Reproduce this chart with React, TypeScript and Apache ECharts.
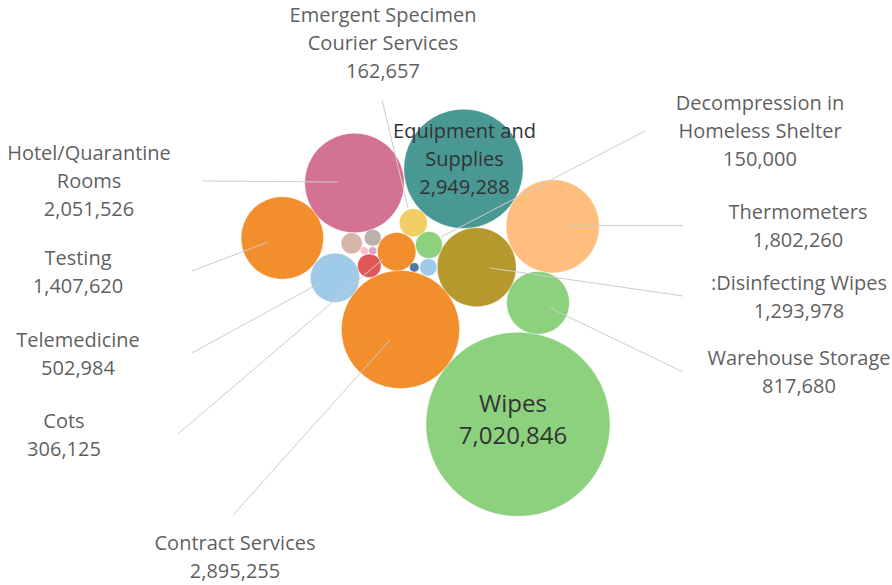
import React, { useEffect, useRef } from "react";
import * as echarts from "echarts";

// ---- data ----
const categories = [
  "Wipes",
  "Equipment and Supplies",
  "Contract Services",
  "Hotel/Quarantine Rooms",
  "Thermometers",
  "Testing",
  "Disinfecting Wipes",
  "Warehouse Storage",
  "Telemedicine",
  "Cots",
  "Emergent Specimen Courier Services",
  "Decompression in Homeless Shelter",
  "Other A",
  "Other B",
  "Other C",
  "Other D",
  "Other E",
  "Other F",
  "Other G",
];
const values = [
  7020846, 2949288, 2895255, 2051526, 1802260, 1407620, 1293978, 817680, 502984,
  306125, 162657, 150000, 115000, 92000, 58000, 62000, 18000, 13500, 13500,
];

// ---- packed-bubble layout (layout units = chart pixels) ----
const layoutX = [518, 463.5, 400.5, 354.5, 552.7, 282.3, 476.7, 538, 335, 396.7, 413.3, 429, 369.3, 351.7, 372.7, 428.3, 414.3, 364.3, 372.7];
const layoutY = [424.3, 168.8, 329.5, 183, 226.3, 238, 267.2, 302.8, 277.8, 251.7, 222.7, 245, 265.8, 243.3, 237.7, 267.3, 267.3, 250.7, 250.7];

// ---- styles ----
const colors = [
  "#8CD17D", "#499894", "#F28E2B", "#D37295", "#FFBE7D", "#F28E2B", "#B6992D",
  "#8CD17D", "#A0CBE8", "#F28E2B", "#F1CE63", "#8CD17D", "#E15759", "#D7B5A6",
  "#BAB0AC", "#A0CBE8", "#4E79A7", "#FABFD2", "#D4A6C8",
];
const SIZE_K = 0.03472; // radius px per sqrt(value)

// ---- outside annotations ----
const annIndex = [10, 11, 3, 5, 8, 9, 2, 4, 6, 7];
const annText = [
  "Emergent Specimen\nCourier Services",
  "Decompression in\nHomeless Shelter",
  "Hotel/Quarantine\nRooms",
  "Testing",
  "Telemedicine",
  "Cots",
  "Contract Services",
  "Thermometers",
  ":Disinfecting Wipes",
  "Warehouse Storage",
];
const annX = [383, 760, 89, 78, 78, 64, 235, 798, 799, 799];
const annY = [42, 130, 180, 271, 353, 434, 556, 225, 296, 371];
const leaderFrom = [
  [382, 100], [645, 131], [202, 181], [192, 271], [192, 353], [178, 434],
  [233, 515], [683, 225], [683, 296], [683, 372],
];
const leaderTo = [
  [408, 208], [441, 237], [338, 182], [268, 242], [320, 283], [383, 259],
  [390, 340], [567, 225], [490, 268], [550, 308],
];

const fmt = (v: number) => v.toLocaleString("en-US");
const FONT = "Open Sans";
const TEXT = "#333333";

export default function App() {
  const ref = useRef<HTMLDivElement>(null);
  useEffect(() => {
    if (!ref.current) return;
    const chart = echarts.init(ref.current, null, { renderer: "svg" });

    const bubbleData = categories.map((name, i) => {
      const item: any = {
        name,
        value: [layoutX[i], layoutY[i], values[i]],
        itemStyle: { color: colors[i] },
      };
      if (i === 0) {
        item.label = {
          show: true,
          position: "inside",
          formatter: `${name}\n${fmt(values[i])}`,
          fontSize: 24,
          lineHeight: 32,
          fontFamily: FONT,
          color: TEXT,
          offset: [-5, -6],
        };
      } else if (i === 1) {
        item.label = {
          show: true,
          position: "inside",
          formatter: `Equipment and\nSupplies\n${fmt(values[i])}`,
          fontSize: 20,
          lineHeight: 28,
          fontFamily: FONT,
          color: TEXT,
          offset: [1, -10],
        };
      }
      return item;
    });

    const annData = annIndex.map((ci, j) => ({
      name: categories[ci],
      value: [annX[j], annY[j]],
      label: { formatter: `${annText[j]}\n${fmt(values[ci])}` },
    }));

    const leaderData = leaderFrom.map((p, j) => ({ coords: [p, leaderTo[j]] }));

    chart.setOption({
      animation: false,
      backgroundColor: "#ffffff",
      grid: { left: 0, right: 0, top: 0, bottom: 0 },
      xAxis: { type: "value", min: 0, max: 892, show: false },
      yAxis: { type: "value", min: 0, max: 585, inverse: true, show: false },
      series: [
        {
          type: "scatter",
          name: "bubbles",
          data: bubbleData,
          symbol: "circle",
          symbolSize: (d: number[]) => 2 * SIZE_K * Math.sqrt(d[2]),
          itemStyle: { opacity: 1, borderColor: "rgba(255,255,255,0.6)", borderWidth: 0.6 },
          label: { show: false },
          z: 2,
        },
        {
          type: "lines",
          coordinateSystem: "cartesian2d",
          data: leaderData,
          lineStyle: { color: "#cccccc", width: 1, opacity: 1 },
          silent: true,
          z: 3,
        },
        {
          type: "scatter",
          name: "annotations",
          data: annData,
          symbolSize: 1,
          itemStyle: { color: "rgba(0,0,0,0)" },
          label: {
            show: true,
            position: "inside",
            fontSize: 20,
            lineHeight: 28,
            fontFamily: FONT,
            color: TEXT,
            align: "center",
          },
          silent: true,
          z: 4,
        },
      ],
    });
    return () => chart.dispose();
  }, []);
  return (
    <div
      ref={ref}
      style={{ position: "absolute", left: 0, top: 0, width: 892, height: 585 }}
    />
  );
}
